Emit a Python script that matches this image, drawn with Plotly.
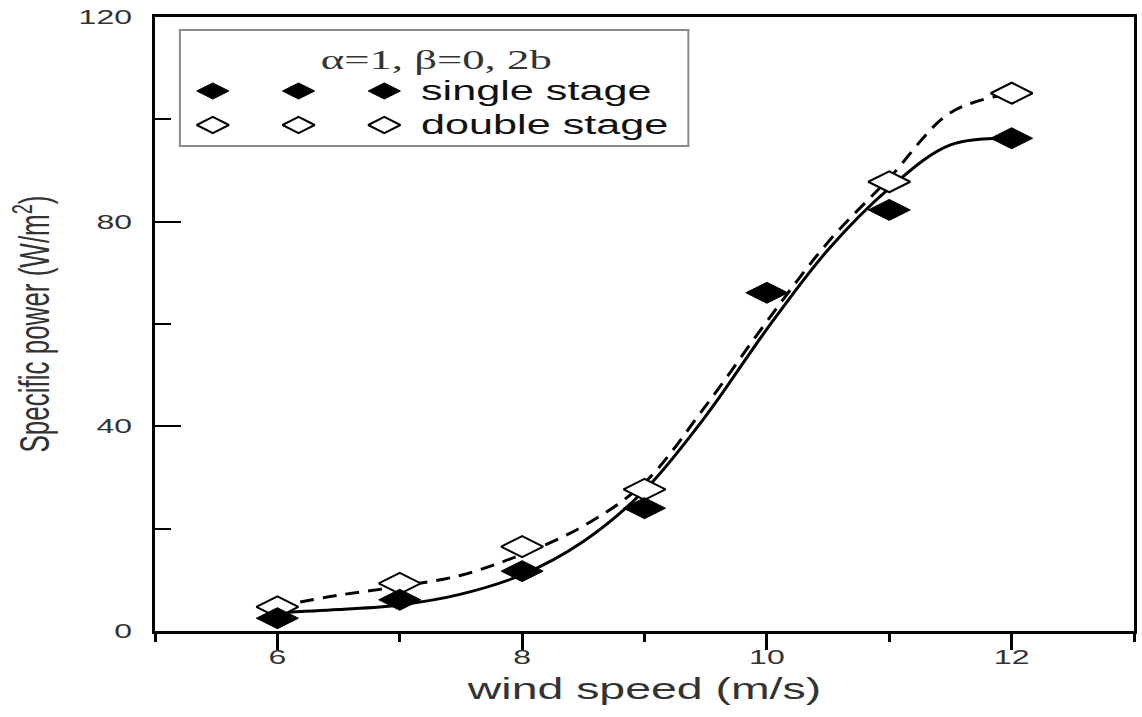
import plotly.graph_objects as go

# ---------------- data ----------------
wind_speed = [6, 7, 8, 9, 10, 11, 12]
single_stage = [2.5, 6.1, 11.7, 24.0, 66.1, 82.3, 96.3]

wind_speed_double = [6, 7, 8, 9, 11, 12]
double_stage = [4.7, 9.3, 16.5, 27.7, 87.8, 105.1]

fit_x = [6, 6.5, 7, 7.5, 8, 8.5, 9, 9.5, 10, 10.5, 11, 11.5, 12]
single_fit = [3.6, 4.2, 5.1, 7.2, 11.0, 17.5, 27.5, 42.0, 59.0, 74.5, 86.5, 95.0, 96.3]
double_fit = [4.8, 7.0, 8.7, 10.9, 15.0, 20.5, 29.0, 44.0, 60.5, 76.0, 88.5, 101.3, 105.1]

x_ticks = [6, 8, 10, 12]
y_ticks = [0, 40, 80, 120]

legend_title = "\u03b1=1, \u03b2=0, 2b"
legend_labels = ["single stage", "double stage"]

# ---------------- style ----------------
W, H = 1142, 717
PL, PR, PT, PB = 155, 1137, 17, 631   # plot area in pixels
SANS = "Liberation Sans, Arial, Helvetica, sans-serif"
SERIF = "Liberation Serif, Times New Roman, serif"
TXT = "#333333"
MSIZE = 30
LEG_MSIZE = 23
LEG_BOX = (180, 30, 690, 146)
LEG_MARK_X = [213, 299, 385]
LEG_ROW_Y = [91, 125]
LEG_TITLE_POS = (437, 59)
LEG_TEXT_X = 420
STRETCH = 1.6

fig = go.Figure()

fig.add_trace(go.Scatter(x=fit_x, y=single_fit, mode="lines", line_shape="spline",
                         line=dict(color="black", width=3), showlegend=False, hoverinfo="skip"))
fig.add_trace(go.Scatter(x=fit_x, y=double_fit, mode="lines", line_shape="spline",
                         line=dict(color="black", width=3, dash="14px,9px"),
                         showlegend=False, hoverinfo="skip"))
fig.add_trace(go.Scatter(x=wind_speed_double, y=double_stage, mode="markers",
                         marker=dict(symbol="diamond-wide", size=MSIZE, color="white",
                                     line=dict(color="black", width=2)),
                         name="double stage", showlegend=False))
fig.add_trace(go.Scatter(x=wind_speed, y=single_stage, mode="markers",
                         marker=dict(symbol="diamond-wide", size=MSIZE, color="black",
                                     line=dict(color="black", width=1)),
                         name="single stage", showlegend=False))

# legend symbols on a pixel-based overlay axis
fig.add_trace(go.Scatter(x=LEG_MARK_X, y=[LEG_ROW_Y[0]] * 3, xaxis="x2", yaxis="y2", mode="markers",
                         marker=dict(symbol="diamond-wide", size=LEG_MSIZE, color="black",
                                     line=dict(color="black", width=1)),
                         showlegend=False, hoverinfo="skip"))
fig.add_trace(go.Scatter(x=LEG_MARK_X, y=[LEG_ROW_Y[1]] * 3, xaxis="x2", yaxis="y2", mode="markers",
                         marker=dict(symbol="diamond-wide", size=LEG_MSIZE, color="white",
                                     line=dict(color="black", width=2)),
                         showlegend=False, hoverinfo="skip"))

fig.add_shape(type="rect", xref="x2", yref="y2", x0=LEG_BOX[0], y0=LEG_BOX[1],
              x1=LEG_BOX[2], y1=LEG_BOX[3], line=dict(color="#8a8a8a", width=2),
              fillcolor="white", layer="below")

fig.add_annotation(x=LEG_TITLE_POS[0], y=LEG_TITLE_POS[1], xref="x2", yref="y2",
                   text=legend_title, showarrow=False, xanchor="center",
                   font=dict(family=SERIF, size=28, color=TXT))
for lab, yy in zip(legend_labels, LEG_ROW_Y):
    fig.add_annotation(x=LEG_TEXT_X, y=yy, xref="x2", yref="y2", text=lab,
                       showarrow=False, xanchor="left", align="left",
                       font=dict(family=SANS, size=27, color="#111111"))

axis_common = dict(showline=True, linewidth=3, linecolor="black", mirror=True,
                   showgrid=False, zeroline=False, tickcolor="black",
                   tickfont=dict(family=SANS, size=20, color=TXT))

fig.update_layout(
    width=W, height=H,
    margin=dict(l=PL, r=W - PR, t=PT, b=H - PB, pad=0),
    plot_bgcolor="white", paper_bgcolor="white",
    showlegend=False,
    xaxis=dict(range=[5, 13], tickmode="array", tickvals=x_ticks,
               ticktext=[str(v) for v in x_ticks],
               ticks="outside", ticklen=16, tickwidth=3, ticklabelstandoff=-10,
               minor=dict(dtick=1, tick0=5, ticks="outside", ticklen=8, tickwidth=3,
                          tickcolor="black", showgrid=False),
               title=dict(text="wind speed (m/s)", font=dict(family=SANS, size=29, color=TXT),
                          standoff=12),
               **axis_common),
    yaxis=dict(range=[0, 120], tickmode="array", tickvals=y_ticks,
               ticktext=[str(v) for v in y_ticks],
               ticks="inside", ticklen=26, tickwidth=2, ticklabelstandoff=16,
               minor=dict(dtick=20, tick0=0, ticks="inside", ticklen=16, tickwidth=2,
                          tickcolor="black", showgrid=False),
               title=dict(text="Specific power (W/m<sup>2</sup>)",
                          font=dict(family=SANS, size=26, color=TXT), standoff=42),
               **axis_common),
    xaxis2=dict(overlaying="x", anchor="y2", range=[PL, PR], visible=False, fixedrange=True),
    yaxis2=dict(overlaying="y", anchor="x2", range=[PB, PT], visible=False, fixedrange=True),
)

# widen the glyphs horizontally like the (horizontally stretched) reference image
post_js = """
var S = %s;
document.querySelectorAll('svg.main-svg text').forEach(function(t){
  if (!t.textContent) { return; }
  var x = parseFloat(t.getAttribute('x')) || 0;
  var y = parseFloat(t.getAttribute('y')) || 0;
  var tr = t.getAttribute('transform') || '';
  var cx = x;
  var list = t.transform.baseVal;
  if (list.numberOfItems > 0) {
    var m = list.consolidate().matrix;
    cx = m.a * x + m.c * y + m.e;
  }
  t.setAttribute('transform', 'translate(' + cx + ',0) scale(' + S + ',1) translate(' + (-cx) + ',0) ' + tr);
});
""" % STRETCH

fig.write_html("out.html", post_script=post_js, config={"displayModeBar": False})
